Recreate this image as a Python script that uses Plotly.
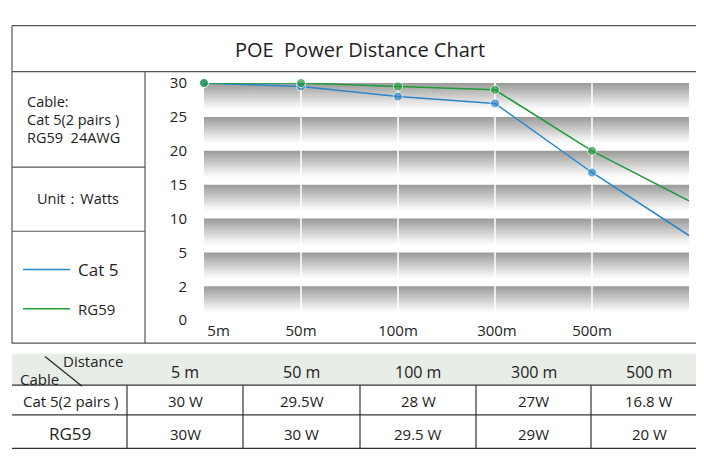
import plotly.graph_objects as go

distances = ["5m", "50m", "100m", "300m", "500m"]
table_heads = ["5 m", "50 m", "100 m", "300 m", "500 m"]
cat5 = [30, 29.5, 28, 27, 16.8, 7.5]
rg59 = [30, 30, 29.5, 29, 20, 12.6]
cat5_txt = ["30 W", "29.5W", "28 W", "27W", "16.8 W"]
rg59_txt = ["30W", "30 W", "29.5 W", "29W", "20 W"]
ytick_vals = [-5, 0, 5, 10, 15, 20, 25, 30]
ytick_text = ["0", "2", "5", "10", "15", "20", "25", "30"]
band_tops = [30, 25, 20, 15, 10, 5, 0]

W, H = 704, 456
FONT = "Open Sans"
def px(x): return x / W
def py(y): return 1 - y / H

fig = go.Figure()
for t in band_tops:
    b = t - 4.0
    fig.add_trace(go.Scatter(x=[0, 5, 5, 0, 0], y=[t, t, b, b, t], mode="lines",
        line=dict(width=0), fill="toself", hoverinfo="skip", showlegend=False,
        fillgradient=dict(type="vertical", colorscale=[[0, "#ffffff"], [0.15, "#f4f4f4"], [1, "#9a9a98"]])))
for i in range(1, 5):
    fig.add_trace(go.Scatter(x=[i, i], y=[-5, 30], mode="lines", line=dict(color="white", width=1.5),
        hoverinfo="skip", showlegend=False))
fig.add_trace(go.Scatter(x=list(range(6)), y=cat5, mode="lines+markers", line=dict(color="#2a86c8", width=1.5),
    marker=dict(size=[9]*5 + [0], color="#2a86c8"), cliponaxis=False, showlegend=False))
fig.add_trace(go.Scatter(x=list(range(6)), y=rg59, mode="lines+markers", line=dict(color="#1f9a3c", width=1.5),
    marker=dict(size=[9]*5 + [0], color="#1f9a3c"), cliponaxis=False, showlegend=False))

fig.update_layout(width=W, height=H, margin=dict(l=0, r=0, t=0, b=0),
    paper_bgcolor="white", plot_bgcolor="white", font=dict(family=FONT, color="#222", size=14),
    xaxis=dict(domain=[px(196), px(681)], range=[0, 5], tickvals=[0.15, 1, 2, 3.02, 4], ticktext=distances,
        showgrid=False, zeroline=False, ticks="", ticklabelstandoff=0, tickfont=dict(size=15)),
    yaxis=dict(domain=[py(315), py(67)], range=[-5, 30], tickvals=ytick_vals, ticktext=ytick_text,
        showgrid=False, zeroline=False, ticks="", ticklabelstandoff=16, tickfont=dict(size=15)))

shapes = []
def line(x0, y0, x1, y1, w=1.2, c="#555"):
    shapes.append(dict(type="line", xref="paper", yref="paper", x0=px(x0), y0=py(y0), x1=px(x1), y1=py(y1),
                       line=dict(color=c, width=w)))
def rect(x0, y0, x1, y1, fill):
    shapes.append(dict(type="rect", xref="paper", yref="paper", x0=px(x0), y0=py(y0), x1=px(x1), y1=py(y1),
                       line=dict(width=0), fillcolor=fill, layer="below"))
line(4, 7, 699, 7); line(4, 339, 699, 339); line(4, 7, 4, 339); line(699, 7, 699, 339)
line(4, 55, 699, 55); line(137, 55, 137, 339); line(4, 155, 137, 155); line(4, 222, 137, 222)
line(15, 262, 62, 262, 1.5, "#2a86c8"); line(15, 303, 62, 303, 1.5, "#1f9a3c")
rect(4, 350, 699, 383, "#e9ede7")
cols = [4, 119, 235, 352, 468, 583, 699]
for c in cols[1:-1]:
    line(c, 383, c, 449, 1.2, "#333")
line(4, 383, 699, 383, 1.2, "#333"); line(4, 414, 699, 414, 1.2, "#333"); line(4, 449, 699, 449, 1.2, "#333")
line(37, 353, 74, 384, 1.2, "#222")

anns = []
def txt(x, y, s, size=14, xa="center"):
    anns.append(dict(x=px(x), y=py(y), xref="paper", yref="paper", text=s, showarrow=False,
                     xanchor=xa, yanchor="middle", font=dict(size=size, family=FONT, color="#222")))
txt(352, 32, "POE  Power Distance Chart", 20)
txt(17, 86, "Cable:", 14.5, "left"); txt(17, 105, "Cat 5(2 pairs )", 14.5, "left"); txt(17, 124, "RG59  24AWG", 14.5, "left")
txt(70, 188, "Unit：Watts", 14.5)
txt(68, 262, "Cat 5", 17, "left"); txt(68, 303, "RG59", 15, "left")
txt(85, 358, "Distance", 15); txt(31, 377, "Cable", 15)
for i in range(5):
    cx = (cols[i + 1] + cols[i + 2]) / 2
    txt(cx, 369, table_heads[i], 16)
    txt(cx, 400, cat5_txt[i], 15)
    txt(cx, 434, rg59_txt[i], 15)
txt(62, 400, "Cat 5(2 pairs )", 15); txt(62, 434, "RG59", 17)
fig.update_layout(shapes=shapes, annotations=anns)
fig.write_html("out.html")
